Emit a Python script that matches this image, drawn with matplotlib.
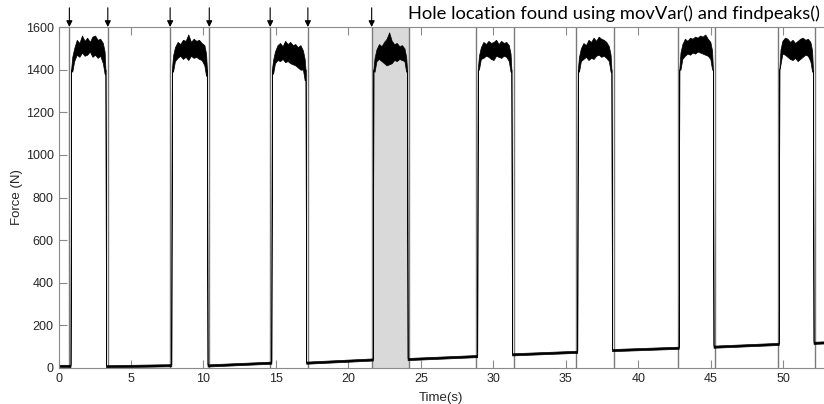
import numpy as np
import matplotlib
matplotlib.use("Agg")
import matplotlib.pyplot as plt

# hole boundaries (s) detected by movVar()/findpeaks()
edges = [0.75, 3.4, 7.7, 10.4, 14.6, 17.2, 21.6, 24.2,
         28.8, 31.4, 35.7, 38.3, 42.7, 45.3, 49.6, 52.2]
n_arrows = 7
highlight = (21.6, 24.2)

# baseline force between holes (start, end), N
base_start = [10, 8, 12, 25, 42, 64, 84, 100, 118]
base_end = [10, 13, 25, 40, 56, 76, 95, 113, 120]

# plateau envelopes while drilling, N
pulse_hi = [
    [1500, 1540, 1525, 1560, 1535, 1550, 1530, 1555, 1560, 1540, 1545, 1525],
    [1505, 1530, 1520, 1540, 1535, 1565, 1530, 1545, 1535, 1540, 1525, 1515],
    [1485, 1515, 1525, 1510, 1535, 1520, 1530, 1515, 1520, 1505, 1515, 1490],
    [1495, 1520, 1510, 1530, 1545, 1575, 1535, 1520, 1525, 1510, 1515, 1500],
    [1505, 1530, 1520, 1535, 1525, 1530, 1540, 1520, 1535, 1525, 1530, 1515],
    [1500, 1525, 1515, 1540, 1530, 1550, 1535, 1555, 1545, 1540, 1530, 1510],
    [1520, 1545, 1535, 1550, 1545, 1555, 1550, 1560, 1555, 1565, 1545, 1530],
    [1535, 1550, 1545, 1530, 1540, 1525, 1535, 1545, 1550, 1540, 1545, 1530],
]
pulse_lo = [
    [1440, 1470, 1460, 1480, 1465, 1470, 1485, 1460, 1470, 1455, 1465, 1430],
    [1440, 1455, 1465, 1450, 1460, 1445, 1465, 1455, 1460, 1450, 1445, 1420],
    [1430, 1445, 1440, 1450, 1435, 1440, 1430, 1425, 1420, 1410, 1400, 1400],
    [1440, 1450, 1440, 1430, 1420, 1425, 1430, 1445, 1440, 1450, 1445, 1440],
    [1450, 1455, 1465, 1460, 1450, 1445, 1465, 1460, 1455, 1465, 1460, 1440],
    [1440, 1450, 1460, 1445, 1455, 1450, 1465, 1470, 1460, 1465, 1455, 1440],
    [1450, 1465, 1475, 1470, 1480, 1475, 1485, 1480, 1475, 1470, 1465, 1450],
    [1475, 1470, 1460, 1450, 1445, 1455, 1440, 1450, 1460, 1470, 1465, 1440],
]

x_max = 52.8
band = 5  # half thickness of the baseline noise

# assemble the force trace as upper/lower envelopes
t, up, lo = [], [], []
seg_starts = [0.0] + edges[1::2]
seg_ends = edges[0::2] + [x_max]
for k in range(len(base_start)):
    s = seg_starts[k] if k == 0 else seg_starts[k] - 0.12
    e = seg_ends[k] + 0.08 if k < len(pulse_hi) else seg_ends[k]
    tb = np.linspace(s, e, 20)
    b = np.linspace(base_start[k], base_end[k], 20)
    t += list(tb); up += list(b + band); lo += list(b - band)
    if k < len(pulse_hi):
        r = seg_ends[k] + 0.08
        f = edges[2 * k + 1] - 0.12
        hi, lw_ = pulse_hi[k], pulse_lo[k]
        tp = np.linspace(r + 0.25, f - 0.22, len(hi))
        t += [r + 0.04, r + 0.12]
        up += [1400, hi[0] - 40]
        lo += [1400, lw_[0] - 50]
        t += list(tp); up += hi; lo += lw_
        t += [f - 0.1, f - 0.04]
        up += [hi[-1] - 40, 1400]
        lo += [lw_[-1] - 50, 1400]

t = np.array(t); up = np.array(up); lo = np.array(lo)

plt.rcParams['font.family'] = ['Liberation Sans', 'DejaVu Sans']
fig = plt.figure(figsize=(8.24, 4.04), dpi=100)
ax = fig.add_axes([58.5 / 824, 36 / 404, 1 - 58.5 / 824, 341 / 404])

ax.axvspan(*highlight, color='#d9d9d9', lw=0, zorder=0)
for e in edges:
    ax.axvline(e, color='#7a7a7a', lw=1.0, zorder=1)

ax.fill_between(t, lo, up, color='black', edgecolor='black', lw=0.5, zorder=2)

for e in edges[:n_arrows]:
    ax.annotate('', xy=(e, 1600), xytext=(e, 1690),
                arrowprops=dict(arrowstyle='-|>', color='black', lw=0.8,
                                mutation_scale=9, shrinkA=0, shrinkB=0),
                annotation_clip=False)

ax.set_xlim(0, x_max)
ax.set_ylim(0, 1600)
ax.set_xticks(np.arange(0, 51, 5))
ax.set_yticks(np.arange(0, 1601, 200))
ax.tick_params(direction='in', length=6, colors='#8a8a8a', labelcolor='#262626',
               labelsize=9, top=True, width=0.8)
for side in ['left', 'bottom', 'top']:
    ax.spines[side].set_color('#8a8a8a')
ax.spines['right'].set_visible(False)

ax.set_xlabel('Time(s)', fontsize=9.5, color='#262626', labelpad=5)
ax.set_ylabel('Force (N)', fontsize=9.5, color='#262626', labelpad=2)

fig.text(820 / 824, 1 - 19 / 404, 'Hole location found using movVar() and findpeaks()',
         ha='right', va='baseline', fontsize=13.2, family='Lato')

fig.savefig('out.png', dpi=100)
